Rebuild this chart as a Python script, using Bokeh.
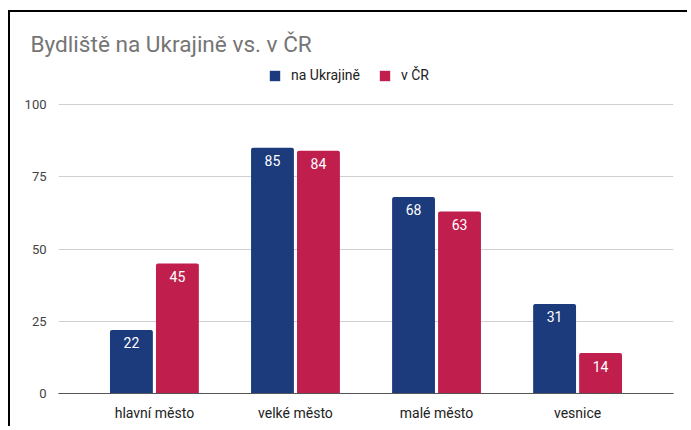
from bokeh.plotting import figure
from bokeh.models import (ColumnDataSource, FactorRange, Range1d, FixedTicker,
                          Legend, LegendItem, LabelSet)
from bokeh.core.properties import value
from bokeh.transform import dodge
from bokeh.embed import file_html
from bokeh.resources import INLINE

# ---- data ----
categories = ["hlavní město", "velké město", "malé město", "vesnice"]
na_ukrajine = [22, 85, 68, 31]
v_cr = [45, 84, 63, 14]
series_names = ["na Ukrajině", "v ČR"]
y_ticks = [0, 25, 50, 75, 100]
title_text = "Bydliště na Ukrajině vs. v ČR"

NAVY = "#1c3b7d"
CRIMSON = "#c01f4e"
FONT = "Roboto"

source = ColumnDataSource(dict(
    cat=categories,
    a=na_ukrajine,
    b=v_cr,
    a_txt=[str(v) for v in na_ukrajine],
    b_txt=[str(v) for v in v_cr],
))

W, H = 679, 416
MB_TOP, MB_BOTTOM, MB_LEFT, MB_RIGHT = 46, 35, 48, 16
frame_h = H - MB_TOP - MB_BOTTOM
px_per_100 = 289.0
y_end = 100.0 * frame_h / px_per_100

p = figure(
    width=W, height=H,
    x_range=FactorRange(factors=categories, range_padding=0.18,
                        range_padding_units="absolute"),
    y_range=Range1d(0, y_end),
    output_backend="svg", toolbar_location=None,
    min_border_top=MB_TOP, min_border_bottom=MB_BOTTOM,
    min_border_left=MB_LEFT, min_border_right=MB_RIGHT,
    styles={"border-left": "2px solid black", "border-top": "2px solid black",
            "margin-top": "10px", "margin-left": "8px"},
)
p.outline_line_color = None

# title
p.title.text = title_text
p.title.text_font = FONT
p.title.text_font_size = "22.6px"
p.title.text_font_style = "normal"
p.title.text_color = "#757575"
p.title.offset = -28
p.title.standoff = 2

off = 0.163
bw = 0.304
r1 = p.vbar(x=dodge("cat", -off, range=p.x_range), top="a", width=bw,
            source=source, fill_color=NAVY, line_color=None,
            border_radius=(2, 2, 0, 0))
r2 = p.vbar(x=dodge("cat", off, range=p.x_range), top="b", width=bw,
            source=source, fill_color=CRIMSON, line_color=None,
            border_radius=(2, 2, 0, 0))

for col, sh in (("a", -off), ("b", off)):
    p.add_layout(LabelSet(
        x=dodge("cat", sh, range=p.x_range), y=col, text=col + "_txt",
        source=source, y_offset=-13, text_align="center",
        text_baseline="middle", text_color="white",
        text_font=value(FONT), text_font_size=value("14px")))

legend = Legend(
    items=[LegendItem(label=series_names[0], renderers=[r1]),
           LegendItem(label=series_names[1], renderers=[r2])],
    orientation="horizontal", location=(210, 310),
    glyph_width=13, glyph_height=13, label_height=15,
    label_standoff=10, spacing=18, padding=0, margin=0,
    border_line_color=None, background_fill_alpha=0,
    label_text_font=FONT, label_text_font_size="14px",
    label_text_color="#222222",
)
p.add_layout(legend, "center")

# axes
p.yaxis.ticker = FixedTicker(ticks=y_ticks)
p.yaxis.axis_line_color = None
p.yaxis.major_tick_line_color = None
p.yaxis.minor_tick_line_color = None
p.yaxis.major_label_standoff = 6
p.yaxis.major_label_text_font = FONT
p.yaxis.major_label_text_font_size = "13px"
p.yaxis.major_label_text_color = "#444444"

p.xaxis.axis_line_color = "#555555"
p.xaxis.major_tick_line_color = None
p.xaxis.minor_tick_line_color = None
p.xaxis.major_label_standoff = 5
p.xaxis.major_label_text_font = FONT
p.xaxis.major_label_text_font_size = "14px"
p.xaxis.major_label_text_color = "#222222"

p.xgrid.grid_line_color = None
p.ygrid.ticker = FixedTicker(ticks=y_ticks)
p.ygrid.grid_line_color = "#d0d0d0"

open("out.html", "w").write(file_html(p, INLINE))
